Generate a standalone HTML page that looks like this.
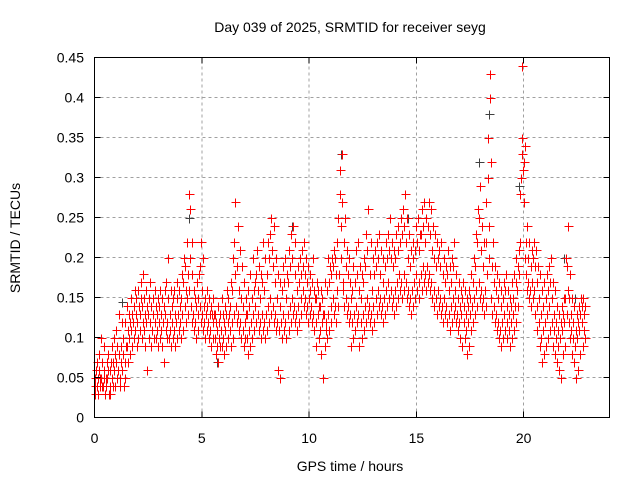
<!DOCTYPE html>
<html><head><meta charset="utf-8"><style>
html,body{margin:0;padding:0;background:#fff;width:640px;height:480px;overflow:hidden}
svg text{font-family:"Liberation Sans",sans-serif;fill:#000}
</style></head><body>
<svg id="chart" width="640" height="480" viewBox="0 0 640 480" xmlns="http://www.w3.org/2000/svg" shape-rendering="crispEdges">
<rect width="640" height="480" fill="#fff"/>
<g id="grid"></g>
<g id="pts"></g>
<rect x="94.5" y="57.5" width="515" height="360" fill="none" stroke="#000" stroke-width="1"/>
<g id="ticks"></g>
<text x="350" y="32" font-size="14" text-anchor="middle">Day 039 of 2025, SRMTID for receiver seyg</text>
<text x="350" y="471" font-size="14" text-anchor="middle">GPS time / hours</text>
<text transform="translate(20,238) rotate(-90)" font-size="14" text-anchor="middle">SRMTID / TECUs</text>
</svg>
<script>
const xTicks=[0,5,10,15,20];
const yTicks=[0,0.05,0.1,0.15,0.2,0.25,0.3,0.35,0.4,0.45];
const yTickLabels=["0","0.05","0.1","0.15","0.2","0.25","0.3","0.35","0.4","0.45"];
const startHour=0, stepHour=0.1;
// values in hundredths of TECU, one row per 0.1 h
const values=[
[3,5,4,6],[4,7,5,3],[6,8,5,4],[5,10,7,4],[4,6,9,5],[3,5,4,7],[5,8,6,3],[4,6,3,7],[5,9,7,4],[6,10,4,8],
[7,11,5,9],[6,13,8,4],[5,9,7,12],[6,10,8,4],[7,12,5,9],[9,14,11,7],[10,13,12,8],[11,15,13,9],[12,14,10,16],[11,13,15,9],
[12,16,10,14],[13,11,17,15],[10,14,12,18],[11,15,13,9],[12,16,14,6],[13,10,15,17],[12,14,9,11],[11,13,15,10],[12,16,14,10],[13,11,15,9],
[12,14,10,16],[11,13,15,9],[12,14,7,16],[13,11,17,10],[12,20,15,10],[11,13,16,9],[12,14,10,15],[11,16,13,9],[12,15,10,17],[13,11,16,14],
[12,15,10,18],[13,17,11,20],[14,19,12,16],[15,22,13,18],[16,28,26,20],[14,18,12,22],[13,16,11,15],[12,14,10,17],[13,15,11,18],[14,19,12,22],
[13,16,11,20],[12,14,10,15],[13,11,16,14],[12,15,10,13],[11,14,9,13],[12,10,15,13],[10,13,8,12],[11,9,14,7],[12,10,13,9],[11,15,9,13],
[10,12,8,14],[11,13,9,16],[12,10,15,13],[11,14,9,17],[12,16,10,20],[13,22,27,18],[14,19,12,24],[13,16,11,21],[12,15,10,19],[11,14,9,17],
[12,10,15,13],[10,13,8,16],[11,14,9,18],[12,15,10,20],[13,16,11,17],[14,18,12,21],[13,16,11,19],[12,15,10,18],[13,17,11,22],[12,16,10,20],
[13,18,11,22],[14,20,12,23],[15,25,13,21],[14,19,12,24],[13,17,11,20],[12,15,6,18],[11,14,5,17],[12,16,10,19],[13,17,11,20],[12,15,10,18],
[13,17,11,21],[14,19,12,23],[15,20,13,24],[14,18,12,22],[13,16,11,19],[14,17,12,20],[15,18,13,21],[16,19,14,22],[15,18,13,20],[14,17,12,19],
[15,18,13,16],[14,17,12,20],[13,16,11,15],[12,15,9,17],[13,16,10,14],[11,14,8,16],[12,15,5,13],[13,9,17,11],[12,16,10,20],[13,17,11,19],
[14,18,12,20],[15,19,13,21],[14,20,12,18],[16,22,14,25],[18,28,31,24],[20,27,33,17],[16,22,14,25],[15,19,13,21],[14,18,12,20],[13,17,9,15],
[12,16,10,19],[13,17,11,21],[14,18,12,22],[13,16,9,19],[12,15,10,18],[13,17,11,20],[14,19,12,23],[15,21,13,26],[14,18,12,22],[13,16,11,20],
[14,18,12,21],[15,19,13,22],[16,20,14,23],[15,18,13,21],[14,17,12,20],[15,19,13,22],[16,20,14,23],[17,21,15,25],[16,20,14,22],[15,19,13,21],
[16,20,14,23],[17,21,15,24],[18,22,16,25],[17,23,15,26],[18,24,16,28],[17,22,15,25],[16,20,14,23],[15,19,13,21],[16,20,14,22],[17,21,15,24],
[18,22,16,25],[17,21,15,23],[18,23,16,26],[19,24,17,27],[18,22,16,25],[19,24,17,27],[18,23,16,26],[17,21,15,24],[16,20,14,23],[15,19,13,22],
[16,20,14,21],[15,19,13,22],[14,18,12,20],[15,17,13,19],[14,18,12,21],[13,16,11,19],[14,17,12,20],[15,19,13,22],[14,16,12,18],[13,15,11,17],
[12,14,10,16],[13,15,9,17],[12,14,10,16],[11,13,8,15],[12,14,9,16],[13,15,11,18],[14,17,12,20],[15,19,13,23],[16,22,14,26],[17,25,15,29],
[16,21,14,24],[15,19,13,22],[16,22,14,27],[18,30,35,24],[20,40,43,32],[15,19,13,22],[14,17,12,19],[13,16,11,18],[12,15,10,17],[11,14,9,16],
[12,15,10,17],[13,16,11,18],[12,14,10,16],[11,13,9,15],[12,14,10,17],[13,15,11,18],[14,17,12,20],[16,19,14,21],[18,22,28,30],[33,35,44,31],
[27,32,20,34],[18,22,16,24],[17,20,15,22],[16,19,14,21],[17,20,15,22],[16,19,13,21],[14,17,11,19],[12,15,9,18],[10,13,7,16],[11,14,8,17],
[12,15,9,18],[13,16,10,19],[14,17,11,20],[12,15,9,17],[11,13,8,16],[10,12,7,14],[9,11,6,13],[10,12,5,14],[11,13,8,15],[12,15,9,20],
[13,19,24,16],[12,15,10,18],[11,13,8,15],[10,12,7,14],[9,11,5,13],[10,12,6,14],[11,13,8,15],[12,14,9,15],[11,13,10,14]
];
const greyHours=[1.3,4.4,5.7,9.2,11.5,14.6,17.9,18.4,19.8,20.2,21.9,22.4];
const greyValues=[0.145,0.25,0.07,0.24,0.33,0.25,0.32,0.38,0.29,0.2,0.2,0.15];

const X0=94.5,X1=609.5,Y0=417.5,Y1=57.5,XMAX=24,YMAX=0.45;
const xs=h=>X0+(h/XMAX)*(X1-X0);
const ys=v=>Y0-(v/YMAX)*(Y0-Y1);
const NS="http://www.w3.org/2000/svg";
const grid=document.getElementById('grid'),ticks=document.getElementById('ticks'),pts=document.getElementById('pts');
function mk(tag,attrs,parent){const e=document.createElementNS(NS,tag);for(const k in attrs)e.setAttribute(k,attrs[k]);parent.appendChild(e);return e;}
xTicks.forEach(t=>{
  const x=xs(t);
  if(t>0){const g=mk('line',{x1:x,y1:Y0,x2:x,y2:Y1,stroke:'#a0a0a0','stroke-dasharray':'3,3'},grid);
  
  }
  mk('line',{x1:x,y1:Y0,x2:x,y2:Y0-6,stroke:'#000'},ticks);
  mk('line',{x1:x,y1:Y1,x2:x,y2:Y1+6,stroke:'#000'},ticks);
  const l=mk('text',{x:x,y:443,'font-size':14,'text-anchor':'middle'},ticks);l.textContent=String(t);
  
  
});
yTicks.forEach((t,i)=>{
  const y=ys(t);
  if(i>0&&i<yTicks.length-1){const g=mk('line',{x1:X0,y1:y,x2:X1,y2:y,stroke:'#a0a0a0','stroke-dasharray':'3,3'},grid);
  
  }
  mk('line',{x1:X0,y1:y,x2:X0+6,y2:y,stroke:'#000'},ticks);
  mk('line',{x1:X1,y1:y,x2:X1-6,y2:y,stroke:'#000'},ticks);
  const l=mk('text',{x:84,y:y+5,'font-size':14,'text-anchor':'end'},ticks);l.textContent=yTickLabels[i];
  
  
});
function plus(h,v,color,name){
  const x=Math.round(xs(h))+0.5,y=Math.round(ys(v))+0.5;
  const p=mk('path',{d:`M${x-4} ${y}h9M${x} ${y-4}v9`,stroke:color,'stroke-width':1,fill:'none'},pts);
  
  
}
greyHours.forEach((h,i)=>plus(h,greyValues[i],'#404040','grey-point'));
values.forEach((row,i)=>{
  const h=startHour+i*stepHour;
  row.forEach((v,j)=>plus(h+j*0.022,v/100,'#ff0000','srmtid-point'));
});
</script>
</body></html>
